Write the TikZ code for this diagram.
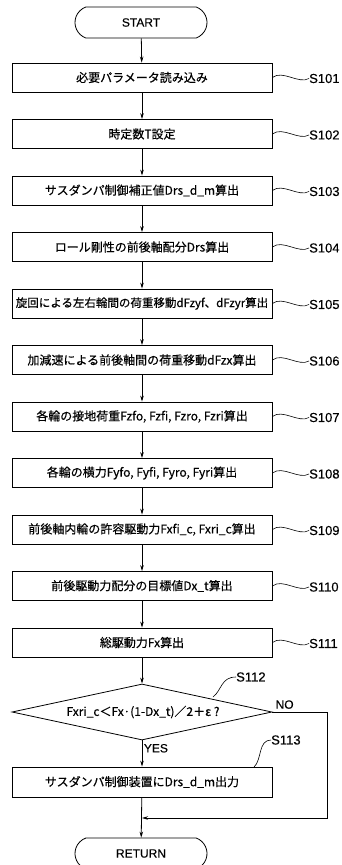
\documentclass[tikz,border=0pt]{standalone}
\usepackage{fontspec}
\setmainfont{Liberation Sans}[FakeBold=0.3]
\newfontfamily\jp{Noto Sans CJK JP}[FakeBold=0.4]
\usetikzlibrary{arrows.meta,shapes.misc,shapes.geometric}
\begin{document}
\begin{tikzpicture}[x=1pt,y=-1pt,
  box/.style={draw, line width=0.8pt, minimum width=260pt, minimum height=29pt, inner sep=0pt, font=\jp\fontsize{12}{14}\selectfont},
  term/.style={draw, line width=0.8pt, rounded rectangle, rounded rectangle arc length=140, minimum width=132pt, minimum height=31pt, inner sep=0pt, font=\fontsize{12}{14}\selectfont},
  lbl/.style={font=\fontsize{13}{14}\selectfont, anchor=west, inner sep=0pt},
  flow/.style={line width=0.8pt, -{Stealth[length=6pt,width=3.5pt]}},
  wave/.style={line width=0.6pt}]
\useasboundingbox (0,0) rectangle (342,865);

\node[term] (start) at (141,22.5) {START};
\node[box] (s101) at (142,77.5) {必要パラメータ読み込み};
\node[box] (s102) at (142,134) {時定数T設定};
\node[box] (s103) at (142,190.5) {サスダンパ制御補正値Drs\_d\_m算出};
\node[box] (s104) at (142,247) {ロール剛性の前後軸配分Drs算出};
\node[box, font=\jp\fontsize{11.5}{14}\selectfont] (s105) at (142,303.5) {旋回による左右輪間の荷重移動dFzyf、dFzyr算出};
\node[box] (s106) at (142,360) {加減速による前後軸間の荷重移動dFzx算出};
\node[box] (s107) at (142,416.5) {各輪の接地荷重Fzfo, Fzfi, Fzro, Fzri算出};
\node[box] (s108) at (142,473) {各輪の横力Fyfo, Fyfi, Fyro, Fyri算出};
\node[box] (s109) at (142,529.5) {前後軸内輪の許容駆動力Fxfi\_c, Fxri\_c算出};
\node[box] (s110) at (142,586) {前後駆動力配分の目標値Dx\_t算出};
\node[box] (s111) at (142,642.5) {総駆動力Fx算出};
\node[draw, line width=0.8pt, diamond, aspect=4.64, minimum width=260pt, minimum height=56pt, inner sep=0pt, font=\jp\fontsize{12}{14}\selectfont] (d112) at (142,712) {};
\node[font=\jp\fontsize{12}{14}\selectfont, inner sep=0pt] (t112) at (143,712) {Fxri\_c＜Fx·(1-Dx\_t)／2＋ε ?};
\node[box, minimum height=30pt] (s113) at (142,782) {サスダンパ制御装置にDrs\_d\_m出力};
\node[term] (ret) at (141,853.5) {RETURN};

% step labels
\foreach \n/\y in {101/77.5,102/134,103/190.5,104/247,105/303.5,106/360,107/416.5,108/473,109/529.5,110/586,111/642.5}{
  \node[lbl] (l\n) at (309,\y+1) {S\n};
  \draw[wave] (s\n.east) .. controls +(10,-8) and +(-10,6) .. (l\n.west);
}
\node[lbl] (l112) at (236,677) {S112};
\draw[wave] (213,697) .. controls (222,690) and (221,677) .. (l112.west);
\node[lbl] (l113) at (271,740) {S113};
\draw[wave] (254,767) .. controls (262,760) and (258,740) .. (l113.west);

% flow
\draw[flow] (start) -- (s101);
\foreach \a/\b in {101/102,102/103,103/104,104/105,105/106,106/107,107/108,108/109,109/110,110/111}{
  \draw[flow] (s\a) -- (s\b);
}
\draw[flow] (s111) -- (d112);
\draw[flow] (d112.south) -- node[pos=0.3, right, inner sep=1.5pt, font=\fontsize{12}{14}\selectfont] {YES} (s113);
\coordinate (nc) at (327,818);
\coordinate (j) at (142,818);
\draw[flow] (d112.east) -| (nc) -- (j);
\node[font=\fontsize{12}{14}\selectfont, anchor=south west, inner sep=1pt] (no) at ([xshift=2pt,yshift=2pt]d112.east) {NO};
\draw[flow] (s113) -- (ret);
\end{tikzpicture}
\end{document}
